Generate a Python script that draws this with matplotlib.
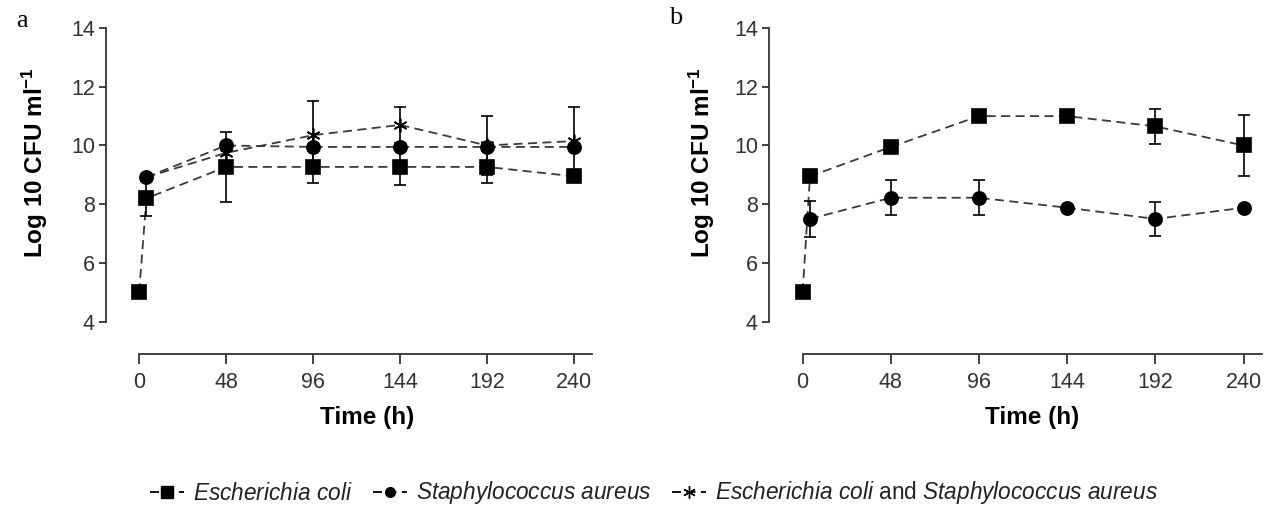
import numpy as np
import matplotlib
matplotlib.use("Agg")
import matplotlib.pyplot as plt
from matplotlib.lines import Line2D

plt.rcParams['font.family'] = ['Liberation Sans', 'DejaVu Sans']
plt.rcParams['mathtext.fontset'] = 'custom'
plt.rcParams['mathtext.it'] = 'Liberation Sans:italic'
plt.rcParams['mathtext.rm'] = 'Liberation Sans'
plt.rcParams['mathtext.bf'] = 'Liberation Sans:bold'

# =========================
# data
# =========================
# panel a
t_ec_a = [0, 4, 48, 96, 144, 192, 240]
ec_a = [5.0, 8.2, 9.27, 9.27, 9.27, 9.27, 8.95]
ec_a_err = [0, 0.6, 1.2, 0.55, 0.62, 0.55, 0]

t_sa_a = [4, 48, 96, 144, 192, 240]
sa_a = [8.92, 10.0, 9.95, 9.95, 9.95, 9.95]

t_mix_a = [4, 48, 96, 144, 192, 240]
mix_a = [8.92, 9.75, 10.35, 10.7, 10.0, 10.15]
mix_a_err = [0, 0, 1.15, 0.6, 1.0, 1.15]

# panel b
t_ec_b = [0, 4, 48, 96, 144, 192, 240]
ec_b = [5.0, 8.95, 9.95, 11.0, 11.0, 10.65, 10.0]
ec_b_err = [0, 0, 0, 0, 0, 0.6, 1.05]

t_sa_b = [4, 48, 96, 144, 192, 240]
sa_b = [7.5, 8.22, 8.22, 7.88, 7.5, 7.88]
sa_b_err = [0.6, 0.6, 0.6, 0, 0.57, 0]

xticks = [0, 48, 96, 144, 192, 240]
yticks = [4, 6, 8, 10, 12, 14]

LINE_C = '#3a3a3a'
AX_C = '#333333'
DASH = (0, (5, 3))
ASTER = (6, 2, 0)

W, H = 1267.0, 529.0


def draw_series(ax, t, y, err, marker, ms):
    t = np.asarray(t, float)
    y = np.asarray(y, float)
    ax.plot(t, y, color=LINE_C, linestyle=DASH, linewidth=1.3, zorder=2)
    if err is not None:
        err = np.asarray(err, float)
        m = err > 0
        ax.errorbar(t[m], y[m], yerr=err[m], fmt='none', ecolor='black',
                    elinewidth=1.2, capsize=4.5, capthick=1.2, zorder=3)
    ax.plot(t, y, linestyle='none', marker=marker, markersize=ms,
            color='black', markeredgecolor='black', markeredgewidth=1.2, zorder=4)


def style_axis(ax):
    ax.set_xlim(-18.3, 250)
    ax.set_ylim(2.9, 14.0)
    for s in ['top', 'right']:
        ax.spines[s].set_visible(False)
    ax.spines['left'].set_bounds(4, 14)
    ax.spines['bottom'].set_bounds(0, 250)
    for s in ['left', 'bottom']:
        ax.spines[s].set_linewidth(1.3)
        ax.spines[s].set_color(AX_C)
    ax.set_xticks(xticks)
    ax.set_yticks(yticks)
    ax.tick_params(axis='y', direction='out', length=5, width=1.3, labelsize=15.5,
                   pad=3, color=AX_C, labelcolor=AX_C)
    ax.tick_params(axis='x', direction='out', length=7, width=1.3, labelsize=15.5,
                   pad=6, color=AX_C, labelcolor=AX_C)
    ax.set_ylabel(r'Log 10 CFU ml$^{\mathbf{-1}}$', fontsize=17.5, fontweight='bold')
    ax.set_xlabel('Time (h)', fontsize=17.5, fontweight='bold')


bottom = (H - 354) / H
height = (354 - 28) / H

fig = plt.figure(figsize=(12.67, 5.29), dpi=100)

ax1 = fig.add_axes([106 / W, bottom, (592 - 106) / W, height])
draw_series(ax1, t_ec_a, ec_a, ec_a_err, 's', 10)
draw_series(ax1, t_sa_a, sa_a, None, 'o', 9.5)
draw_series(ax1, t_mix_a, mix_a, mix_a_err, ASTER, 10)
style_axis(ax1)
ax1.yaxis.set_label_coords(-0.115, 0.587)
ax1.xaxis.set_label_coords(0.537, -0.16)

ax2 = fig.add_axes([769 / W, bottom, (1262 - 769) / W, height])
draw_series(ax2, t_ec_b, ec_b, ec_b_err, 's', 10)
draw_series(ax2, t_sa_b, sa_b, sa_b_err, 'o', 9.5)
style_axis(ax2)
ax2.yaxis.set_label_coords(-0.105, 0.587)
ax2.xaxis.set_label_coords(0.533, -0.16)

fig.text(22 / W, 1 - 21 / H, 'a', fontsize=19, family='Liberation Serif', ha='center', va='center')
fig.text(676 / W, 1 - 18 / H, 'b', fontsize=19, family='Liberation Serif', ha='center', va='center')

# legend
handles = [
    Line2D([], [], color='black', linestyle=DASH, linewidth=1.3, marker='s', markersize=8),
    Line2D([], [], color='black', linestyle=DASH, linewidth=1.3, marker='o', markersize=7),
    Line2D([], [], color='black', linestyle=DASH, linewidth=1.3, marker=ASTER, markersize=9),
]
labels = [
    r'$\mathit{Escherichia\ coli}$',
    r'$\mathit{Staphylococcus\ aureus}$',
    r'$\mathit{Escherichia\ coli}$ and $\mathit{Staphylococcus\ aureus}$',
]
fig.legend(handles, labels, loc='center', bbox_to_anchor=(654 / W, 1 - 493 / H),
           ncol=3, frameon=False, fontsize=16.3, handlelength=1.5, handletextpad=0.4,
           columnspacing=0.9, labelcolor='#222222')

fig.savefig('out.png', dpi=100)
